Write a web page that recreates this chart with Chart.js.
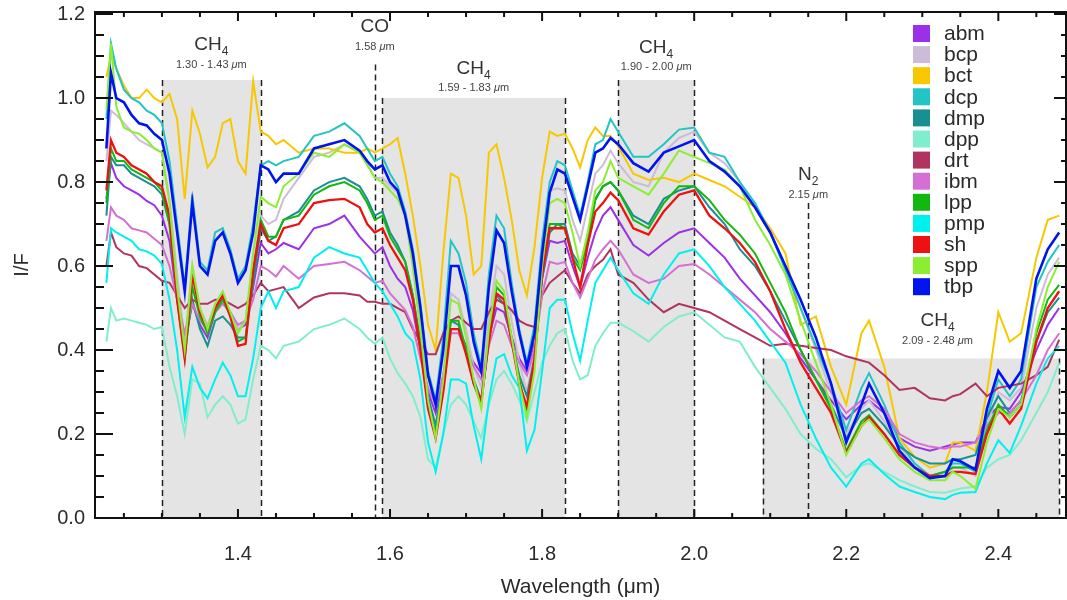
<!DOCTYPE html>
<html>
<head>
<meta charset="utf-8">
<script src="https://cdn.jsdelivr.net/npm/chart.js@4.4.1/dist/chart.umd.min.js"></script>
<style>
  html, body { margin: 0; padding: 0; background: #fff; }
</style>
</head>
<body>
<canvas id="chart" width="1067" height="600"></canvas>
<script>
// Wavelength grid (um), shared by every spectrum
const wavelength = [
  1.227, 1.233, 1.24, 1.25, 1.26, 1.27, 1.28, 1.29, 1.30,
  1.31, 1.32, 1.33, 1.34, 1.35, 1.36, 1.37, 1.38, 1.39, 1.40, 1.41, 1.42, 1.43,
  1.44, 1.45, 1.46, 1.48, 1.50, 1.52, 1.54, 1.56, 1.57, 1.58,
  1.59, 1.60, 1.61, 1.62, 1.63, 1.64, 1.65, 1.66, 1.67, 1.68, 1.69, 1.70, 1.71, 1.72, 1.73,
  1.74, 1.75, 1.76, 1.77, 1.78, 1.79, 1.80, 1.81, 1.82, 1.83, 1.84, 1.85, 1.86, 1.87, 1.88, 1.89, 1.90,
  1.92, 1.94, 1.96, 1.98, 2.00, 2.02, 2.04, 2.06, 2.08, 2.10, 2.12, 2.14, 2.16, 2.18, 2.20,
  2.22, 2.23, 2.25, 2.27, 2.29, 2.31, 2.33, 2.34, 2.35, 2.37, 2.385, 2.40, 2.415, 2.43, 2.45, 2.465, 2.48
];

// I/F spectra
const abm = [
  0.76, 0.845, 0.81, 0.79, 0.78, 0.77, 0.755, 0.745, 0.72,
  0.66, 0.52, 0.42, 0.51, 0.46, 0.43, 0.49, 0.52, 0.49, 0.45, 0.46, 0.55, 0.655,
  0.63, 0.64, 0.655, 0.64, 0.69, 0.70, 0.72, 0.67, 0.65, 0.63,
  0.645, 0.60, 0.57, 0.55, 0.495, 0.40, 0.30, 0.25, 0.34, 0.45, 0.45, 0.41, 0.37, 0.345, 0.43,
  0.50, 0.49, 0.43, 0.38, 0.35, 0.42, 0.57, 0.66, 0.655, 0.66, 0.60, 0.55, 0.62, 0.68, 0.72, 0.74, 0.71,
  0.65, 0.625, 0.655, 0.68, 0.69, 0.655, 0.62, 0.57, 0.53, 0.49, 0.44, 0.38, 0.33, 0.28, 0.235,
  0.27, 0.28, 0.25, 0.19, 0.17, 0.16, 0.17, 0.175, 0.18, 0.18, 0.24, 0.265, 0.26, 0.30, 0.40, 0.46, 0.50
];
const bcp = [
  0.85, 0.97, 0.96, 0.94, 0.92, 0.90, 0.89, 0.88, 0.87,
  0.76, 0.58, 0.42, 0.60, 0.50, 0.46, 0.51, 0.53, 0.49, 0.45, 0.47, 0.60, 0.72,
  0.70, 0.71, 0.76, 0.81, 0.86, 0.87, 0.89, 0.87, 0.845, 0.81,
  0.81, 0.79, 0.775, 0.72, 0.60, 0.45, 0.29, 0.20, 0.34, 0.535, 0.52, 0.45, 0.36, 0.31, 0.48,
  0.60, 0.58, 0.47, 0.37, 0.30, 0.40, 0.63, 0.78, 0.785, 0.78, 0.71, 0.66, 0.74, 0.82, 0.84, 0.875, 0.845,
  0.80, 0.79, 0.87, 0.905, 0.92, 0.87, 0.845, 0.80, 0.74, 0.68, 0.60, 0.50, 0.40, 0.30, 0.20,
  0.26, 0.28, 0.23, 0.17, 0.13, 0.10, 0.10, 0.12, 0.12, 0.10, 0.22, 0.30, 0.28, 0.31, 0.50, 0.58, 0.62
];
const bct = [
  1.05, 1.10, 1.07, 1.03, 1.00, 1.00, 1.02, 1.00, 0.99,
  1.01, 0.95, 0.76, 0.97, 0.915, 0.835, 0.86, 0.94, 0.95, 0.85, 0.82, 1.04, 0.92,
  0.91, 0.89, 0.90, 0.87, 0.88, 0.88, 0.87, 0.87, 0.88, 0.87,
  0.88, 0.89, 0.905, 0.82, 0.72, 0.60, 0.46, 0.40, 0.63, 0.82, 0.81, 0.72, 0.58, 0.60, 0.87,
  0.89, 0.81, 0.71, 0.59, 0.53, 0.645, 0.81, 0.92, 0.91, 0.915, 0.88, 0.835, 0.90, 0.93, 0.91, 0.91, 0.885,
  0.82, 0.805, 0.81, 0.80, 0.82, 0.805, 0.79, 0.765, 0.74, 0.69, 0.63, 0.46, 0.48, 0.36, 0.27,
  0.44, 0.47, 0.36, 0.19, 0.145, 0.12, 0.13, 0.18, 0.18, 0.16, 0.30, 0.49, 0.42, 0.44, 0.62, 0.71, 0.72
];
const dcp = [
  0.95, 1.13, 1.07, 1.02, 1.00, 0.99, 0.97, 0.96, 0.94,
  0.85, 0.70, 0.55, 0.77, 0.61, 0.59, 0.68, 0.69, 0.64, 0.57, 0.60, 0.70, 0.84,
  0.85, 0.84, 0.85, 0.86, 0.91, 0.92, 0.94, 0.91, 0.88, 0.85,
  0.86, 0.82, 0.79, 0.73, 0.64, 0.51, 0.35, 0.28, 0.43, 0.66, 0.63, 0.56, 0.44, 0.36, 0.58,
  0.72, 0.69, 0.56, 0.45, 0.37, 0.46, 0.66, 0.80, 0.85, 0.84, 0.78, 0.72, 0.80, 0.89, 0.90, 0.95, 0.92,
  0.86, 0.86, 0.89, 0.925, 0.93, 0.87, 0.86, 0.80, 0.75, 0.68, 0.59, 0.50, 0.41, 0.32, 0.21,
  0.31, 0.345, 0.27, 0.18, 0.13, 0.10, 0.11, 0.13, 0.13, 0.11, 0.24, 0.33, 0.29, 0.33, 0.55, 0.61, 0.65
];
const dmp = [
  0.72, 0.86, 0.84, 0.84, 0.82, 0.81, 0.80, 0.79, 0.77,
  0.70, 0.54, 0.40, 0.52, 0.45, 0.41, 0.47, 0.48, 0.46, 0.43, 0.43, 0.56, 0.69,
  0.66, 0.67, 0.71, 0.73, 0.78, 0.80, 0.81, 0.79, 0.76, 0.72,
  0.73, 0.68, 0.65, 0.61, 0.53, 0.42, 0.29, 0.22, 0.33, 0.47, 0.46, 0.40, 0.33, 0.28, 0.42,
  0.53, 0.51, 0.42, 0.34, 0.29, 0.38, 0.57, 0.68, 0.70, 0.70, 0.63, 0.60, 0.67, 0.76, 0.79, 0.80, 0.78,
  0.72, 0.70, 0.76, 0.78, 0.79, 0.74, 0.70, 0.64, 0.60, 0.54, 0.47, 0.40, 0.33, 0.27, 0.19,
  0.25, 0.26, 0.22, 0.17, 0.145, 0.13, 0.13, 0.14, 0.14, 0.15, 0.24, 0.29, 0.25, 0.28, 0.42, 0.49, 0.525
];
const dpp = [
  0.42, 0.50, 0.47, 0.475, 0.47, 0.465, 0.46, 0.45, 0.455,
  0.36, 0.29, 0.20, 0.33, 0.32, 0.24, 0.27, 0.29, 0.27, 0.225, 0.235, 0.33, 0.41,
  0.40, 0.38, 0.41, 0.42, 0.45, 0.46, 0.475, 0.45, 0.43, 0.415,
  0.43, 0.38, 0.345, 0.32, 0.29, 0.24, 0.14, 0.12, 0.20, 0.27, 0.29, 0.27, 0.23, 0.19, 0.27,
  0.33, 0.35, 0.32, 0.28, 0.23, 0.30, 0.37, 0.41, 0.44, 0.45, 0.375, 0.33, 0.34, 0.41, 0.44, 0.465, 0.465,
  0.445, 0.42, 0.455, 0.48, 0.49, 0.46, 0.43, 0.42, 0.36, 0.31, 0.26, 0.20, 0.165, 0.14, 0.097,
  0.125, 0.13, 0.11, 0.09, 0.075, 0.062, 0.06, 0.065, 0.07, 0.075, 0.12, 0.14, 0.15, 0.185, 0.25, 0.30, 0.37
];
const drt = [
  0.60, 0.68, 0.645, 0.63, 0.625, 0.60, 0.595, 0.58, 0.565,
  0.56, 0.53, 0.50, 0.52, 0.51, 0.51, 0.52, 0.52, 0.51, 0.50, 0.51, 0.53, 0.56,
  0.54, 0.545, 0.55, 0.50, 0.525, 0.535, 0.535, 0.53, 0.515, 0.515,
  0.51, 0.51, 0.50, 0.49, 0.45, 0.42, 0.39, 0.39, 0.44, 0.47, 0.48, 0.465, 0.45, 0.45, 0.49,
  0.52, 0.51, 0.495, 0.47, 0.46, 0.455, 0.53, 0.56, 0.575, 0.59, 0.56, 0.535, 0.58, 0.60, 0.615, 0.64, 0.58,
  0.56, 0.52, 0.49, 0.51, 0.50, 0.49, 0.47, 0.45, 0.43, 0.41, 0.415, 0.41, 0.405, 0.40, 0.385,
  0.375, 0.37, 0.34, 0.305, 0.31, 0.285, 0.28, 0.29, 0.295, 0.32, 0.29, 0.31, 0.315, 0.32, 0.34, 0.36, 0.425
];
const ibm = [
  0.66, 0.74, 0.72, 0.71, 0.69, 0.685, 0.68, 0.665, 0.65,
  0.60, 0.52, 0.44, 0.51, 0.47, 0.45, 0.49, 0.51, 0.49, 0.46, 0.47, 0.52, 0.60,
  0.59, 0.575, 0.60, 0.57, 0.60, 0.605, 0.61, 0.59, 0.575, 0.56,
  0.565, 0.535, 0.515, 0.495, 0.455, 0.38, 0.31, 0.27, 0.34, 0.44, 0.44, 0.40, 0.36, 0.33, 0.41,
  0.47, 0.46, 0.41, 0.37, 0.34, 0.40, 0.53, 0.61, 0.605, 0.61, 0.56, 0.525, 0.57, 0.615, 0.64, 0.66, 0.64,
  0.58, 0.56, 0.57, 0.60, 0.605, 0.58, 0.55, 0.52, 0.49, 0.45, 0.42, 0.39, 0.35, 0.30, 0.25,
  0.28, 0.29, 0.26, 0.20, 0.18, 0.17, 0.165, 0.17, 0.17, 0.18, 0.22, 0.25, 0.25, 0.28, 0.34, 0.40, 0.44
];
const lpp = [
  0.75, 0.88, 0.85, 0.85, 0.83, 0.82, 0.81, 0.80, 0.78,
  0.70, 0.52, 0.38, 0.55, 0.48, 0.44, 0.49, 0.52, 0.48, 0.42, 0.43, 0.58, 0.71,
  0.67, 0.67, 0.71, 0.72, 0.77, 0.79, 0.80, 0.78, 0.75, 0.71,
  0.72, 0.67, 0.64, 0.61, 0.53, 0.41, 0.27, 0.20, 0.32, 0.47, 0.47, 0.40, 0.32, 0.27, 0.43,
  0.55, 0.53, 0.43, 0.33, 0.25, 0.37, 0.58, 0.70, 0.70, 0.69, 0.62, 0.59, 0.66, 0.757, 0.79, 0.80, 0.78,
  0.71, 0.69, 0.75, 0.79, 0.79, 0.757, 0.71, 0.675, 0.63, 0.56, 0.49, 0.40, 0.33, 0.26, 0.16,
  0.23, 0.245, 0.20, 0.15, 0.12, 0.10, 0.11, 0.12, 0.12, 0.12, 0.21, 0.27, 0.24, 0.27, 0.44, 0.52, 0.555
];
const pmp = [
  0.56, 0.69, 0.68, 0.67, 0.66, 0.64, 0.635, 0.625, 0.605,
  0.52, 0.40, 0.24, 0.36, 0.31, 0.285, 0.33, 0.37, 0.34, 0.29, 0.29, 0.38, 0.50,
  0.54, 0.50, 0.54, 0.55, 0.62, 0.645, 0.63, 0.62, 0.59, 0.56,
  0.54, 0.51, 0.48, 0.44, 0.42, 0.33, 0.18, 0.11, 0.20, 0.33, 0.33, 0.32, 0.22, 0.14, 0.28,
  0.38, 0.39, 0.34, 0.31, 0.16, 0.21, 0.35, 0.50, 0.52, 0.52, 0.44, 0.375, 0.47, 0.56, 0.59, 0.62, 0.59,
  0.535, 0.51, 0.58, 0.63, 0.64, 0.60, 0.55, 0.51, 0.47, 0.42, 0.37, 0.27, 0.19, 0.12, 0.075,
  0.13, 0.14, 0.105, 0.075, 0.062, 0.05, 0.045, 0.055, 0.06, 0.062, 0.13, 0.185, 0.155, 0.22, 0.32, 0.38, 0.41
];
const sh = [
  0.78, 0.90, 0.87, 0.86, 0.84, 0.83, 0.82, 0.80, 0.79,
  0.72, 0.52, 0.38, 0.58, 0.49, 0.45, 0.50, 0.53, 0.48, 0.41, 0.415, 0.59, 0.70,
  0.66, 0.65, 0.69, 0.70, 0.75, 0.757, 0.76, 0.74, 0.70, 0.68,
  0.69, 0.65, 0.62, 0.59, 0.52, 0.40, 0.26, 0.19, 0.30, 0.45, 0.45, 0.39, 0.32, 0.28, 0.42,
  0.535, 0.52, 0.42, 0.32, 0.265, 0.38, 0.58, 0.69, 0.69, 0.69, 0.62, 0.55, 0.65, 0.73, 0.75, 0.775, 0.757,
  0.69, 0.675, 0.73, 0.77, 0.78, 0.72, 0.69, 0.655, 0.61, 0.54, 0.45, 0.37, 0.31, 0.25, 0.155,
  0.22, 0.24, 0.20, 0.15, 0.12, 0.10, 0.10, 0.11, 0.11, 0.105, 0.20, 0.26, 0.225, 0.26, 0.42, 0.50, 0.54
];
const spp = [
  0.97, 1.13, 0.98, 0.93, 0.92, 0.915, 0.90, 0.88, 0.87,
  0.75, 0.55, 0.40, 0.60, 0.50, 0.45, 0.51, 0.54, 0.49, 0.44, 0.47, 0.63, 0.765,
  0.75, 0.74, 0.79, 0.82, 0.87, 0.86, 0.89, 0.87, 0.84, 0.81,
  0.80, 0.78, 0.76, 0.72, 0.60, 0.45, 0.28, 0.19, 0.33, 0.52, 0.51, 0.43, 0.33, 0.26, 0.45,
  0.565, 0.54, 0.43, 0.32, 0.24, 0.35, 0.60, 0.75, 0.76, 0.75, 0.68, 0.60, 0.68, 0.78, 0.80, 0.85, 0.81,
  0.79, 0.77, 0.82, 0.875, 0.86, 0.845, 0.83, 0.79, 0.71, 0.65, 0.58, 0.47, 0.37, 0.27, 0.15,
  0.22, 0.235, 0.19, 0.14, 0.11, 0.09, 0.09, 0.11, 0.10, 0.07, 0.18, 0.26, 0.24, 0.27, 0.45, 0.55, 0.61
];
const tbp = [
  0.88, 1.06, 1.00, 0.99, 0.96, 0.94, 0.935, 0.915, 0.90,
  0.82, 0.68, 0.54, 0.75, 0.60, 0.58, 0.66, 0.68, 0.63, 0.56, 0.59, 0.68, 0.84,
  0.83, 0.80, 0.82, 0.82, 0.88, 0.89, 0.90, 0.875, 0.85, 0.83,
  0.84, 0.80, 0.78, 0.72, 0.63, 0.50, 0.34, 0.27, 0.40, 0.60, 0.60, 0.53, 0.42, 0.35, 0.55,
  0.685, 0.655, 0.54, 0.44, 0.36, 0.44, 0.63, 0.775, 0.83, 0.82, 0.765, 0.71, 0.79, 0.87, 0.88, 0.905, 0.89,
  0.845, 0.825, 0.87, 0.885, 0.90, 0.85, 0.825, 0.79, 0.74, 0.68, 0.60, 0.52, 0.43, 0.32, 0.18,
  0.27, 0.32, 0.25, 0.16, 0.12, 0.095, 0.10, 0.14, 0.135, 0.115, 0.26, 0.35, 0.31, 0.35, 0.57, 0.64, 0.68
];

const seriesNames = ["abm", "bcp", "bct", "dcp", "dmp", "dpp", "drt", "ibm", "lpp", "pmp", "sh", "spp", "tbp"];
const seriesValues = [abm, bcp, bct, dcp, dmp, dpp, drt, ibm, lpp, pmp, sh, spp, tbp];
const seriesColors = [
  "#9b30e8", "#cdbcd8", "#f7c800", "#22c4c4", "#19908f", "#80eecc", "#b0345f",
  "#d470d4", "#10b810", "#00f0f0", "#ee1111", "#8cee30", "#0014ee"
];

// Tick values
const xMajorTicks = [1.4, 1.6, 1.8, 2.0, 2.2, 2.4];
const yMajorTicks = [0.0, 0.2, 0.4, 0.6, 0.8, 1.0, 1.2];

// Absorption bands (shaded) and marker lines
const bandFrom = [1.30, 1.59, 1.90, 2.09];
const bandTo = [1.43, 1.83, 2.00, 2.48];
const bandTop = [1.043, 1.0, 1.043, 0.38];
const markX = [1.30, 1.43, 1.58, 1.59, 1.83, 1.90, 2.00, 2.09, 2.15, 2.48];
const markTop = [1.043, 1.043, 1.08, 1.0, 1.0, 1.043, 1.043, 0.38, 0.75, 0.38];

// Feature labels
const labelGas = [["CH", "4"], ["CO", ""], ["CH", "4"], ["CH", "4"], ["N", "2"], ["CH", "4"]];
const labelRange = ["1.30 - 1.43", "1.58", "1.59 - 1.83", "1.90 - 2.00", "2.15", "2.09 - 2.48"];
const labelX = [1.365, 1.58, 1.71, 1.95, 2.15, 2.32];
const labelY = [1.126, 1.169, 1.071, 1.121, 0.817, 0.469];

const FONT = "'Liberation Sans', Arial, Helvetica, sans-serif";
Chart.defaults.font.family = FONT;
Chart.defaults.color = "#2a2a2a";

function drawRangeText(ctx, text, cx, cy) {
  const normal = "11px " + FONT;
  const italic = "italic 11px " + FONT;
  ctx.font = normal;
  const w1 = ctx.measureText(text + " ").width;
  const w3 = ctx.measureText("m").width;
  ctx.font = italic;
  const w2 = ctx.measureText("\u03bc").width;
  let x0 = cx - (w1 + w2 + w3) / 2;
  ctx.textAlign = "left";
  ctx.textBaseline = "middle";
  ctx.font = normal;
  ctx.fillText(text + " ", x0, cy);
  ctx.font = italic;
  ctx.fillText("\u03bc", x0 + w1, cy);
  ctx.font = normal;
  ctx.fillText("m", x0 + w1 + w2, cy);
}

const decorations = {
  id: "decorations",
  beforeDatasetsDraw(chart) {
    const { ctx, chartArea: a, scales: { x, y } } = chart;
    ctx.save();
    ctx.fillStyle = "#e4e4e4";
    bandFrom.forEach((f, i) => {
      const x0 = x.getPixelForValue(f);
      const x1 = x.getPixelForValue(bandTo[i]);
      const yt = y.getPixelForValue(bandTop[i]);
      ctx.fillRect(x0, yt, x1 - x0, a.bottom - yt);
    });
    ctx.strokeStyle = "#222";
    ctx.lineWidth = 1.5;
    ctx.setLineDash([6, 4]);
    markX.forEach((m, i) => {
      const px = Math.round(x.getPixelForValue(m)) + 0.5;
      ctx.beginPath();
      ctx.moveTo(px, y.getPixelForValue(markTop[i]));
      ctx.lineTo(px, a.bottom);
      ctx.stroke();
    });
    ctx.restore();
  },
  afterDatasetsDraw(chart) {
    const { ctx, chartArea: a, scales: { x, y } } = chart;
    ctx.save();

    // frame
    ctx.strokeStyle = "#111";
    ctx.lineWidth = 2;
    ctx.strokeRect(a.left, a.top, a.right - a.left, a.bottom - a.top);

    // inward ticks
    ctx.beginPath();
    for (let k = 25; k <= 49; k++) {
      const px = x.getPixelForValue(k * 0.05);
      const len = k % 4 === 0 ? 9 : 5;
      ctx.moveTo(px, a.bottom);
      ctx.lineTo(px, a.bottom - len);
      ctx.moveTo(px, a.top);
      ctx.lineTo(px, a.top + len);
    }
    for (let k = 1; k <= 24; k++) {
      const py = y.getPixelForValue(k * 0.05);
      const major = k % 4 === 0;
      ctx.moveTo(a.left, py);
      ctx.lineTo(a.left + (major ? 18 : 9), py);
      ctx.moveTo(a.right, py);
      ctx.lineTo(a.right - (major ? 12 : 5), py);
    }
    ctx.stroke();

    // feature labels
    labelGas.forEach((g, i) => {
      const cx = x.getPixelForValue(labelX[i]);
      const cy = y.getPixelForValue(labelY[i]);
      ctx.fillStyle = "#333";
      ctx.font = "19px " + FONT;
      const wMain = ctx.measureText(g[0]).width;
      ctx.font = "12px " + FONT;
      const wSub = g[1] ? ctx.measureText(g[1]).width : 0;
      const x0 = cx - (wMain + wSub) / 2;
      ctx.textAlign = "left";
      ctx.textBaseline = "middle";
      ctx.font = "19px " + FONT;
      ctx.fillText(g[0], x0, cy);
      if (g[1]) {
        ctx.font = "12px " + FONT;
        ctx.fillText(g[1], x0 + wMain, cy + 7);
      }
      ctx.fillStyle = "#444";
      drawRangeText(ctx, labelRange[i], cx, cy + 20);
    });

    // legend
    ctx.font = "21px " + FONT;
    ctx.textAlign = "left";
    ctx.textBaseline = "middle";
    seriesNames.forEach((n, i) => {
      const cy = 33.5 + i * 21.1;
      ctx.fillStyle = seriesColors[i];
      ctx.fillRect(913, cy - 8.5, 17, 17);
      ctx.fillStyle = "#2a2a2a";
      ctx.fillText(n, 944, cy + 1);
    });
    ctx.restore();
  }
};

new Chart(document.getElementById("chart"), {
  type: "line",
  data: {
    datasets: seriesNames.map((n, i) => ({
      label: n,
      data: wavelength.map((w, j) => ({ x: w, y: seriesValues[i][j] })),
      borderColor: seriesColors[i],
      backgroundColor: seriesColors[i],
      borderWidth: n === "tbp" ? 2.6 : (n === "sh" ? 2.3 : 2),
      pointRadius: 0,
      tension: 0,
      order: seriesNames.length - i
    }))
  },
  options: {
    responsive: false,
    animation: false,
    layout: { padding: { top: 12, right: 1, left: 0, bottom: 0 } },
    plugins: { legend: { display: false }, tooltip: { enabled: false } },
    scales: {
      x: {
        type: "linear",
        min: 1.212,
        max: 2.489,
        grid: { display: false, drawTicks: false },
        border: { display: false },
        afterBuildTicks: (s) => { s.ticks = xMajorTicks.map((v) => ({ value: v })); },
        afterFit: (s) => { s.height = 82; s.paddingLeft = 0; s.paddingRight = 0; },
        ticks: { font: { size: 20 }, padding: 24, maxRotation: 0, callback: (v) => Number(v).toFixed(1) },
        title: { display: true, text: "Wavelength (\u03bcm)", font: { size: 21 }, padding: { top: 0, bottom: 0 } }
      },
      y: {
        min: 0,
        max: 1.205,
        grid: { display: false, drawTicks: false },
        border: { display: false },
        afterBuildTicks: (s) => { s.ticks = yMajorTicks.map((v) => ({ value: v })); },
        afterFit: (s) => { s.width = 95; s.paddingTop = 0; s.paddingBottom = 0; },
        ticks: { font: { size: 20 }, padding: 10, callback: (v) => Number(v).toFixed(1) },
        title: { display: true, text: "I/F", font: { size: 20 }, padding: { top: 10, bottom: 0 } }
      }
    }
  },
  plugins: [decorations]
});
</script>
</body>
</html>
